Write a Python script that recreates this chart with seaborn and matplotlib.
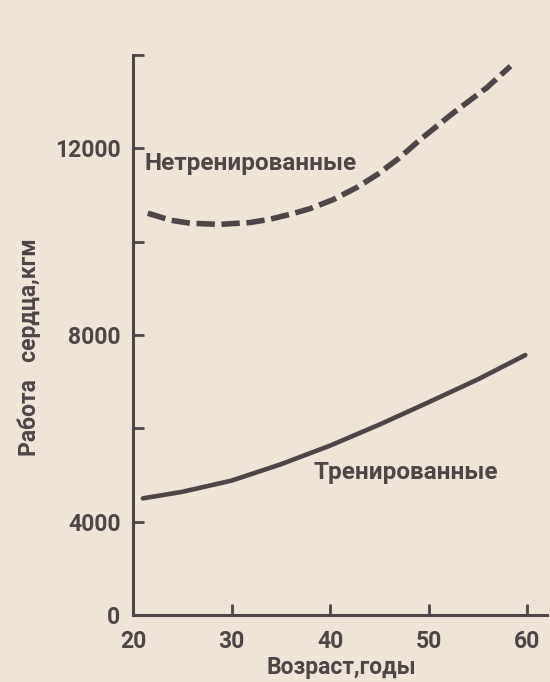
import matplotlib
matplotlib.use("Agg")
import pandas as pd
import matplotlib.pyplot as plt
import seaborn as sns

# Work of the heart vs age
age_untrained = [21.5, 23.8, 25.8, 28.8, 31.9, 33.9, 36.2, 38.0, 40.3, 42.7, 44.8, 47.0, 49.1,
                 52.5, 55.9, 58.3]
work_untrained = [10610, 10460, 10395, 10370, 10410, 10480, 10600, 10710, 10900, 11160, 11440,
                  11790, 12180, 12760, 13300, 13760]
age_trained = [21.0, 25.0, 30.0, 35.0, 40.0, 45.0, 50.0, 55.0, 59.8]
work_trained = [4500, 4640, 4880, 5230, 5630, 6080, 6560, 7050, 7570]

x_ticks = [20, 30, 40, 50, 60]
# the original axis is broken: "0" sits one step below 4000
y_ticks = [2000, 4000, 6000, 8000, 10000, 12000, 14000]
y_tick_labels = ["0", "4000", "", "8000", "", "12000", ""]

PAPER = "#eee4d7"
INK = "#4d4547"

sns.set_style("ticks")
plt.rcParams["font.family"] = ["Roboto", "DejaVu Sans"]
plt.rcParams["font.weight"] = "bold"

untrained = pd.DataFrame({"age": age_untrained, "work": work_untrained})
trained = pd.DataFrame({"age": age_trained, "work": work_trained})

fig = plt.figure(figsize=(5.5, 6.82), dpi=100, facecolor=PAPER)
ax = fig.add_axes([0.2418, 0.0982, 0.7527, 0.8212])
ax.set_facecolor(PAPER)

sns.lineplot(data=untrained, x="age", y="work", ax=ax, color=INK, linewidth=4.0)
ax.lines[-1].set_dashes((3.3, 1.2))
ax.lines[-1].set_dash_capstyle("butt")
sns.lineplot(data=trained, x="age", y="work", ax=ax, color=INK, linewidth=3.3)
ax.lines[-1].set_solid_capstyle("round")

ax.set_xlim(20, 62.0)
ax.set_ylim(2000, 14000)
ax.set_xticks(x_ticks)
ax.set_yticks(y_ticks)
ax.set_yticklabels(y_tick_labels)

sns.despine(ax=ax)
for side in ("left", "bottom"):
    ax.spines[side].set_linewidth(2.2)
    ax.spines[side].set_color(INK)

ax.tick_params(direction="in", length=8, width=2, color=INK, labelcolor=INK,
               labelsize=16.5)
ax.tick_params(axis="y", pad=9)
ax.tick_params(axis="x", pad=11)

ax.set_xlabel("Возраст,годы", fontsize=16.5, color=INK, fontweight="bold")
ax.set_ylabel("Работа   сердца,кгм", fontsize=16.5, color=INK, fontweight="bold")
ax.xaxis.set_label_coords(0.503, -0.074)
ax.yaxis.set_label_coords(-0.222, 0.478)

ax.text(0.029, 0.807, "Нетренированные", transform=ax.transAxes, fontsize=17.5,
        color=INK, fontweight="bold", ha="left", va="center")
ax.text(0.435, 0.254, "Тренированные", transform=ax.transAxes, fontsize=17.5,
        color=INK, fontweight="bold", ha="left", va="center")

fig.savefig("out.png", dpi=100, facecolor=PAPER)
